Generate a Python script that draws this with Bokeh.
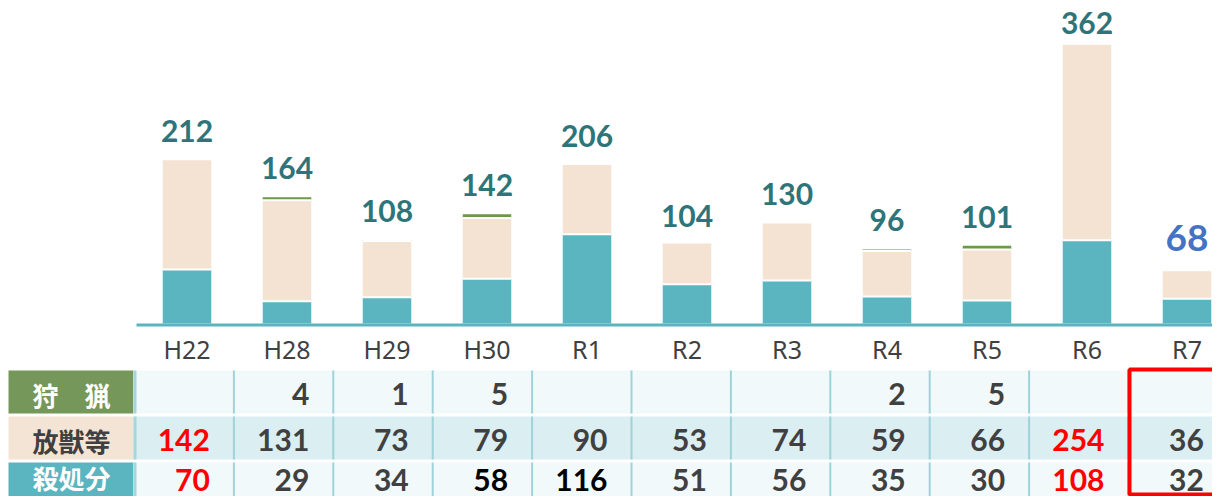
from bokeh.plotting import figure
from bokeh.models import Range1d
from bokeh.embed import file_html
from bokeh.resources import INLINE
from bokeh.core.properties import value

# ---------------- data ----------------
years = ["H22", "H28", "H29", "H30", "R1", "R2", "R3", "R4", "R5", "R6", "R7"]
hunting = [None, 4, 1, 5, None, None, None, 2, 5, None, None]   # 狩猟
release = [142, 131, 73, 79, 90, 53, 74, 59, 66, 254, 36]        # 放獣等
culled = [70, 29, 34, 58, 116, 51, 56, 35, 30, 108, 32]          # 殺処分
row_labels = ["狩　猟", "放獣等", "殺処分"]

# styles
TEAL = "#5ab5c0"
BEIGE = "#f4e2d2"
GREEN_BAR = "#6a9a45"
HDR_GREEN = "#76975a"
DARK = "#404040"
RED = "#ff0000"
LBL_TEAL = "#2e7479"
BLUE = "#4472c4"

release_colors = [RED, DARK, DARK, DARK, DARK, DARK, DARK, DARK, DARK, RED, DARK]
culled_colors = [RED, DARK, DARK, "#000000", "#000000", DARK, DARK, DARK, DARK, RED, DARK]
label_gaps = [18, 18, 18, 18, 18, 16, 18, 18, 18, 11]   # px between bar top and total label

# ---------------- layout helpers (picture pixels -> data) ----------------
SCALE = 0.77          # px per unit
BASE_PY = 323.0       # picture y of value 0
C0_PX = 186.5         # picture x of first category
STEP = 100.0
SHIFT = 0.37          # baseline correction (fraction of font size)


def X(px):
    return (px - C0_PX) / STEP


def Y(py):
    return (BASE_PY - py) / SCALE


W, H = 1212, 496
p = figure(width=W, height=H, x_range=Range1d(X(0), X(W)), y_range=Range1d(Y(H), Y(0)),
           output_backend="svg", toolbar_location=None, min_border=0)
p.axis.visible = False
p.grid.visible = False
p.outline_line_color = None
p.background_fill_color = "white"
p.border_fill_color = "white"

xs = list(range(len(years)))
hunt0 = [h if h is not None else 0 for h in hunting]
lvl1 = culled
lvl2 = [c + r for c, r in zip(culled, release)]
totals = [c + r + h for c, r, h in zip(culled, release, hunt0)]

bw = 0.485
p.vbar(x=xs, bottom=0, top=lvl1, width=bw, fill_color=TEAL, line_color=None)
p.vbar(x=xs, bottom=lvl1, top=lvl2, width=bw, fill_color=BEIGE, line_color=None)
p.vbar(x=xs, bottom=lvl2, top=totals, width=bw, fill_color=GREEN_BAR, line_color=None)

# white separators between stacked segments
p.segment(x0=[x - bw / 2 for x in xs], x1=[x + bw / 2 for x in xs], y0=lvl1, y1=lvl1,
          line_color="white", line_width=2)
hx = [x for x, h in zip(xs, hunt0) if h > 0]
hy = [v for v, h in zip(lvl2, hunt0) if h > 0]
p.segment(x0=[x - bw / 2 for x in hx], x1=[x + bw / 2 for x in hx], y0=hy, y1=hy,
          line_color="white", line_width=2)

# baseline
p.segment(x0=[X(136)], x1=[X(1225)], y0=[Y(324.5)], y1=[Y(324.5)], line_color=TEAL, line_width=3)

# totals above bars (10 teal labels, latest in blue)
for i in range(len(years) - 1):
    p.text(x=[xs[i]], y=[totals[i]], text=[str(totals[i])], y_offset=-label_gaps[i] - SHIFT * 30,
           text_font=value("Lato"), text_font_style="bold", text_font_size="30px",
           text_color=LBL_TEAL, text_align="center", text_baseline="alphabetic")
p.text(x=xs[-1:], y=totals[-1:], text=[str(t) for t in totals[-1:]], y_offset=-19 - SHIFT * 37,
       text_font=value("Lato"), text_font_style="bold", text_font_size="37px",
       text_color=BLUE, text_align="center", text_baseline="alphabetic")

# category labels
p.text(x=xs, y=[Y(358 - SHIFT * 25)] * len(xs), text=years,
       text_font=value("Noto Sans"), text_font_size="25px", text_color=DARK,
       text_align="center", text_baseline="alphabetic")

# ---------------- table ----------------
rows_px = [(370, 413), (416, 459), (462, 504)]
row_bg = ["#f2f9fa", "#dbeef1", "#f2f9fa"]
hdr_bg = [HDR_GREEN, "#f4e4d6", TEAL]
hdr_fg = ["white", DARK, "white"]
hdr_cy = [393.5, 439.5, 477.0]
num_base = [404.5, 450.5, 490.5]
T_LEFT = 134.0
T_STEP = 99.4
bounds = [T_LEFT + T_STEP * k for k in range(len(years) + 1)]

for (t, b), bg, hb in zip(rows_px, row_bg, hdr_bg):
    p.quad(left=[X(8)], right=[X(133)], top=[Y(t)], bottom=[Y(b)], fill_color=hb, line_color=None)
    p.quad(left=[X(133)], right=[X(1225)], top=[Y(t)], bottom=[Y(b)], fill_color=bg, line_color=None)
    p.quad(left=[X(133)], right=[X(136)], top=[Y(t)], bottom=[Y(b)], fill_color="#a6d6dc", line_color=None)
    sx = [X(v) for v in bounds[1:]]
    p.segment(x0=sx, x1=sx, y0=[Y(t)] * len(sx), y1=[Y(b)] * len(sx), line_color="#9fd2d9", line_width=2)

# header texts
p.text(x=[X(71)] * 3, y=[Y(c) for c in hdr_cy], text=row_labels,
       text_font=value("Noto Sans CJK JP"), text_font_style="bold", text_font_size="26px",
       text_color=hdr_fg, text_align="center", text_baseline="middle")

num_x = [X(bb - 24) for bb in bounds[1:]]
table_rows = [
    ([("" if h is None else str(h)) for h in hunting], [DARK] * len(years)),
    ([str(v) for v in release], release_colors),
    ([str(v) for v in culled], culled_colors),
]
for base, (txt, cols) in zip(num_base, table_rows):
    p.text(x=num_x, y=[Y(base - SHIFT * 30)] * len(num_x), text=txt,
           text_font=value("Lato"), text_font_style="bold", text_font_size="30px",
           text_color=cols, text_align="right", text_baseline="alphabetic")

# red highlight box around the latest column
p.quad(left=[X(1129)], right=[X(1230)], top=[Y(369)], bottom=[Y(H - 2)],
       fill_color=None, line_color=RED, line_width=4)

open("out.html", "w").write(file_html(p, INLINE))
